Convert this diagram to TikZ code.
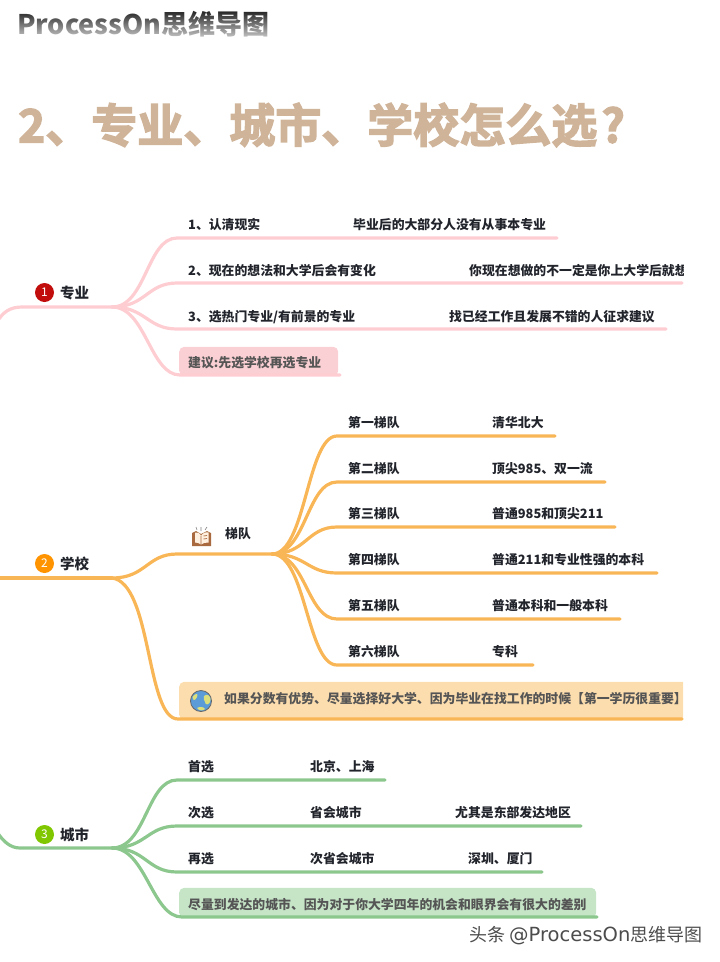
\documentclass[tikz,border=0pt]{standalone}
\usepackage{fontspec}
\setmainfont{Noto Sans CJK SC}
\newfontfamily\titlefont[FakeBold=3]{Noto Sans CJK SC Bold}
\newfontfamily\markfont{DejaVu Sans}
\usetikzlibrary{fadings}
\definecolor{pinkline}{HTML}{FDCDD2}
\definecolor{pinkbox}{HTML}{FBD0D4}
\definecolor{orangeline}{HTML}{F9B656}
\definecolor{orangebox}{HTML}{FCDDAE}
\definecolor{greenline}{HTML}{8CC78D}
\definecolor{greenbox}{HTML}{C6E5C7}
\definecolor{titletan}{HTML}{CFB49A}
\definecolor{inktext}{HTML}{22242C}
\definecolor{notetext}{HTML}{555555}
\definecolor{bookbrown}{HTML}{A86A3E}
\definecolor{globeblue}{HTML}{5A9BD8}
\definecolor{globeland}{HTML}{DDE07A}
\tikzset{
  branch/.style={line width=3.2pt, line cap=round},
  leaf/.style={anchor=west, inner sep=0pt, yshift=-0.8pt, text=inktext, font=\fontsize{12.85}{15}\selectfont\bfseries},
  note/.style={anchor=west, inner sep=0pt, yshift=-0.8pt, text=notetext, font=\fontsize{12.85}{15}\selectfont\bfseries},
  topic/.style={anchor=west, inner sep=0pt, text=inktext, font=\fontsize{14.5}{17}\selectfont\bfseries},
  badge/.style={circle, inner sep=0pt, minimum size=19pt, text=white, font=\fontsize{12}{14}\selectfont},
  notebox/.style={anchor=south west, inner sep=0pt, rounded corners=5pt}
}
\begin{document}
\begin{tikzpicture}[x=1pt,y=-1pt]
  \useasboundingbox (0,0) rectangle (720,962);
  % heading
  \node[anchor=west, inner sep=0pt, text=black!85, font=\fontsize{27}{30}\selectfont\bfseries] (brand) at (17,24) {ProcessOn思维导图};
  \fill[white, path fading=north, fill opacity=0.75] (14,11) rectangle (274,38);
  \node[anchor=west, inner sep=0pt, text=titletan, font=\fontsize{46}{52}\selectfont\titlefont] (title) at (18,125) {2、专业、城市、学校怎么选\kern4pt?};

  % first topic
  \coordinate (stubA) at (-3,322);
  \coordinate (kneeA) at (22,307);
  \coordinate (hubA) at (112,307);
  \coordinate (a1) at (177,238);
  \coordinate (a1end) at (557,238);
  \coordinate (a2) at (177,283);
  \coordinate (a2end) at (682,283);
  \coordinate (a3) at (177,329);
  \coordinate (a3end) at (666,329);
  \coordinate (a4) at (180,375);
  \coordinate (a4end) at (340,375);
  \node[notebox, fill=pinkbox, minimum width=159pt, minimum height=29pt] (noteboxA) at (179,376) {};
  \draw[branch, pinkline] (stubA) .. controls +(6,-10) and +(-12,0) .. (kneeA) -- (hubA);
  \draw[branch, pinkline] (hubA) .. controls +(34,0) and +(-30,0) .. (a1) -- (a1end);
  \draw[branch, pinkline] (hubA) .. controls +(34,0) and +(-30,0) .. (a2) -- (a2end);
  \draw[branch, pinkline] (hubA) .. controls +(34,0) and +(-30,0) .. (a3) -- (a3end);
  \draw[branch, pinkline] (hubA) .. controls +(34,0) and +(-30,0) .. (a4) -- (a4end);
  \node[badge, fill=red!75!black!95] (badgeA) at (44.5,292.5) {1};
  \node[topic] (topicA) at (60,293) {专业};
  \node[leaf] (a1left) at (188,224) {1、认清现实};
  \node[leaf] (a1right) at (353,224) {毕业后的大部分人没有从事本专业};
  \node[leaf] (a2left) at (188,270) {2、现在的想法和大学后会有变化};
  \begin{scope}
    \clip (460,258) rectangle (683,281);
    \node[leaf] (a2right) at (469,270) {你现在想做的不一定是你上大学后就想};
  \end{scope}
  \node[leaf] (a3left) at (188,316) {3、选热门专业/有前景的专业};
  \node[leaf] (a3right) at (449,316) {找已经工作且发展不错的人征求建议};
  \node[note] (noteA) at (188,362) {建议:先选学校再选专业};

  % second topic
  \coordinate (stubB) at (-3,578);
  \coordinate (hubB) at (112,578);
  \coordinate (b1) at (177,554);
  \coordinate (hubT) at (272,554);
  \coordinate (b2) at (178,719);
  \coordinate (b2end) at (682,719);
  \begin{scope}
    \clip (170,675) rectangle (683,725);
    \node[notebox, fill=orangebox, minimum width=520pt, minimum height=38pt] (noteboxB) at (179,720) {};
  \end{scope}
  \draw[branch, orangeline] (stubB) -- (hubB);
  \draw[branch, orangeline] (hubB) .. controls +(34,0) and +(-30,0) .. (b1) -- (hubT);
  \draw[branch, orangeline] (hubB) .. controls +(40,5) and +(-32,0) .. (b2) -- (b2end);
  \foreach \i/\y/\xend in {1/436/555, 2/482/605, 3/527/615, 4/573/657, 5/619/620, 6/665/533}{
    \coordinate (t\i) at (337,\y);
    \coordinate (t\i end) at (\xend,\y);
    \draw[branch, orangeline] (hubT) .. controls +(34,0) and +(-30,0) .. (t\i) -- (t\i end);
  }
  \node[badge, fill=orange!85!yellow] (badgeB) at (44.5,563.5) {2};
  \node[topic] (topicB) at (60,563.5) {学校};
  \node[leaf] (ladder) at (225,533) {梯队};
  % book icon
  \fill[bookbrown] (192,533) -- (196,531) -- (201,534) -- (207,531) -- (211,533) -- (211,546) -- (192,546) -- cycle;
  \fill[orange!12!white] (195,532.5) .. controls (198,532) and (200,533) .. (201,535.5) .. controls (202.5,533) and (205,532) .. (208.5,532.5) -- (208.5,542.5) .. controls (205,542.5) and (203,543) .. (201,544.5) .. controls (199,543) and (197,542.5) .. (195,542.5) -- cycle;
  \draw[bookbrown, line width=0.7pt] (201,535.5) -- (201,544.5) (203.5,536) -- (207,535.5) (203.5,539) -- (207,538.5);
  \draw[gray, line width=0.6pt] (197,530) -- (196,527) (201,531) -- (201,527) (205,530) -- (207,527);
  \node[leaf] (t1left) at (348,422) {第一梯队};
  \node[leaf] (t1right) at (492,422) {清华北大};
  \node[leaf] (t2left) at (348,468) {第二梯队};
  \node[leaf] (t2right) at (492,468) {顶尖985、双一流};
  \node[leaf] (t3left) at (348,513) {第三梯队};
  \node[leaf] (t3right) at (492,513) {普通985和顶尖211};
  \node[leaf] (t4left) at (348,559) {第四梯队};
  \node[leaf] (t4right) at (492,559) {普通211和专业性强的本科};
  \node[leaf] (t5left) at (348,605) {第五梯队};
  \node[leaf] (t5right) at (492,605) {普通本科和一般本科};
  \node[leaf] (t6left) at (348,651) {第六梯队};
  \node[leaf] (t6right) at (492,651) {专科};
  % globe icon
  \fill[globeblue, draw=gray!80!black, line width=0.8pt] (201,701) circle (10.5);
  \fill[globeland] (204,696) .. controls (207,693) and (211,696) .. (210.5,700) .. controls (210,705) and (205,706) .. (205,702) .. controls (205,699) and (202,699) .. cycle;
  \fill[globeland] (192.5,697) .. controls (195,693) and (199,693) .. (197,697) .. controls (195,701) and (193,701) .. cycle;
  \fill[globeland] (197,708) .. controls (200,706) and (204,707) .. (205,709) .. controls (203,711) and (199,711) .. cycle;
  \node[note] (noteB) at (224,698) {如果分数有优势、尽量选择好大学、因为毕业在找工作的时候【第一学历很重要】};

  % third topic
  \coordinate (stubC) at (-3,832);
  \coordinate (kneeC) at (20,848);
  \coordinate (hubC) at (112,848);
  \coordinate (c1) at (177,780);
  \coordinate (c1end) at (385,780);
  \coordinate (c2) at (177,826);
  \coordinate (c2end) at (581,826);
  \coordinate (c3) at (177,872);
  \coordinate (c3end) at (542,872);
  \coordinate (c4) at (182,917);
  \coordinate (c4end) at (597,917);
  \node[notebox, fill=greenbox, minimum width=417pt, minimum height=30pt] (noteboxC) at (179,918) {};
  \draw[branch, greenline] (stubC) .. controls +(6,9) and +(-10,0) .. (kneeC) -- (hubC);
  \draw[branch, greenline] (hubC) .. controls +(34,0) and +(-30,0) .. (c1) -- (c1end);
  \draw[branch, greenline] (hubC) .. controls +(34,0) and +(-30,0) .. (c2) -- (c2end);
  \draw[branch, greenline] (hubC) .. controls +(34,0) and +(-30,0) .. (c3) -- (c3end);
  \draw[branch, greenline] (hubC) .. controls +(34,0) and +(-30,0) .. (c4) -- (c4end);
  \node[badge, fill=green!45!black!50!lime!80!yellow] (badgeC) at (44.5,834.5) {3};
  \node[topic] (topicC) at (60,834.5) {城市};
  \node[leaf] (c1left) at (188,766) {首选};
  \node[leaf] (c1mid) at (310,766) {北京、上海};
  \node[leaf] (c2left) at (188,812) {次选};
  \node[leaf] (c2mid) at (310,812) {省会城市};
  \node[leaf] (c2right) at (455,812) {尤其是东部发达地区};
  \node[leaf] (c3left) at (188,858) {再选};
  \node[leaf] (c3mid) at (310,858) {次省会城市};
  \node[leaf] (c3right) at (468,858) {深圳、厦门};
  \node[note] (noteC) at (188,904) {尽量到发达的城市、因为对于你大学四年的机会和眼界会有很大的差别};

  % watermark
  \node[anchor=west, inner sep=0pt, text=black!70, font=\fontsize{18}{21}\selectfont] (mark) at (469,936) {头条 {\markfont\fontsize{19.5}{21}\selectfont @ProcessOn}思维导图};
\end{tikzpicture}
\end{document}
